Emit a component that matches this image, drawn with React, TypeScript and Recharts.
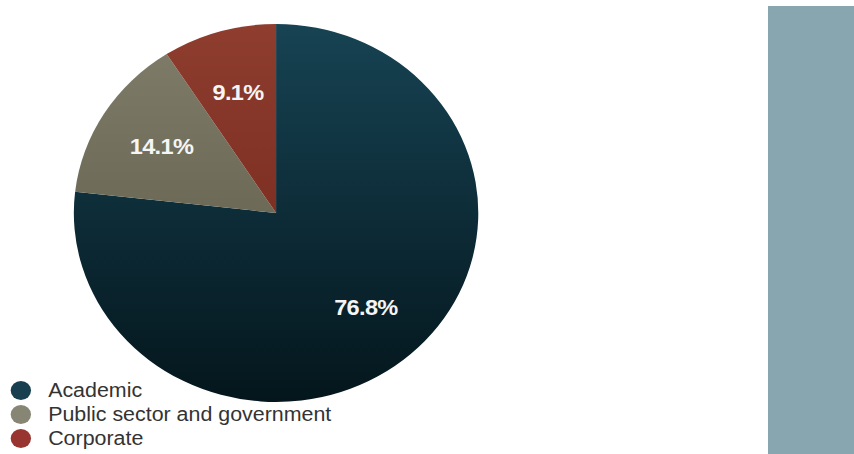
import React from "react";
import { PieChart, Pie, Cell, Legend } from "recharts";

const categories = ["Academic", "Public sector and government", "Corporate"];
const shares = [76.8, 14.1, 9.1];
const sliceColors = ["url(#gAcademic)", "url(#gPublic)", "url(#gCorporate)"];
const legendColors = ["#173f50", "#878675", "#993530"];

const data = categories.map((name, i) => ({ name, value: shares[i] }));

const FONT = "'Liberation Sans', Arial, Helvetica, sans-serif";
const RADIAN = Math.PI / 180;

const renderLabel = (props: any) => {
  const { cx, cy, midAngle, outerRadius, index } = props;
  const r = outerRadius * 0.667;
  const x = cx + r * Math.cos(-midAngle * RADIAN);
  const y = cy + r * Math.sin(-midAngle * RADIAN);
  return (
    <text
      x={x}
      y={y}
      fill="#f5f5f5"
      textAnchor="middle"
      dominantBaseline="central"
      fontFamily={FONT}
      fontWeight="bold"
      fontSize={22}
      letterSpacing={-0.6}
    >
      {shares[index].toFixed(1) + "%"}
    </text>
  );
};

const renderLegend = () => (
  <div style={{ fontFamily: FONT, fontSize: 20, color: "#333333" }}>
    {categories.map((c, i) => (
      <div key={c} style={{ position: "relative", height: 24, lineHeight: "24px" }}>
        <span
          style={{
            position: "absolute",
            left: 10,
            top: 2.5,
            width: 19,
            height: 19,
            borderRadius: "50%",
            background: legendColors[i],
          }}
        />
        <span style={{ position: "absolute", left: 45, top: 0, whiteSpace: "nowrap" }}>{c}</span>
      </div>
    ))}
  </div>
);

export default function App() {
  return (
    <div
      style={{
        position: "absolute",
        left: 0,
        top: 0,
        width: 854,
        height: 454,
        overflow: "hidden",
        background: "#ffffff",
      }}
    >
      <div style={{ transform: "scaleX(1.07)", transformOrigin: "0 0", width: 800, height: 454 }}>
        <PieChart width={800} height={454} margin={{ top: 0, right: 0, bottom: 0, left: 0 }}>
          <defs>
            <linearGradient id="gAcademic" x1="0" y1="0" x2="0" y2="1">
              <stop offset="0%" stopColor="#174353" />
              <stop offset="55%" stopColor="#0c2a35" />
              <stop offset="100%" stopColor="#04161c" />
            </linearGradient>
            <linearGradient id="gPublic" x1="0" y1="0" x2="0" y2="1">
              <stop offset="0%" stopColor="#7d7b67" />
              <stop offset="100%" stopColor="#6c6a56" />
            </linearGradient>
            <linearGradient id="gCorporate" x1="0" y1="0" x2="0" y2="1">
              <stop offset="0%" stopColor="#8e3d2e" />
              <stop offset="100%" stopColor="#7e3023" />
            </linearGradient>
          </defs>
          <Pie
            data={data}
            dataKey="value"
            nameKey="name"
            cx={258}
            cy={213}
            outerRadius={189}
            startAngle={90}
            endAngle={-270}
            stroke="none"
            label={renderLabel}
            labelLine={false}
            isAnimationActive={false}
          >
            {data.map((d, i) => (
              <Cell key={d.name} fill={sliceColors[i]} />
            ))}
          </Pie>
          <Legend
            content={renderLegend}
            verticalAlign="bottom"
            align="left"
            layout="horizontal"
            wrapperStyle={{ left: 0, top: 378, bottom: "auto", width: 400 }}
          />
        </PieChart>
      </div>
      <div
        style={{
          position: "absolute",
          left: 768,
          top: 6,
          width: 86,
          height: 448,
          background: "#88a6af",
        }}
      />
    </div>
  );
}
